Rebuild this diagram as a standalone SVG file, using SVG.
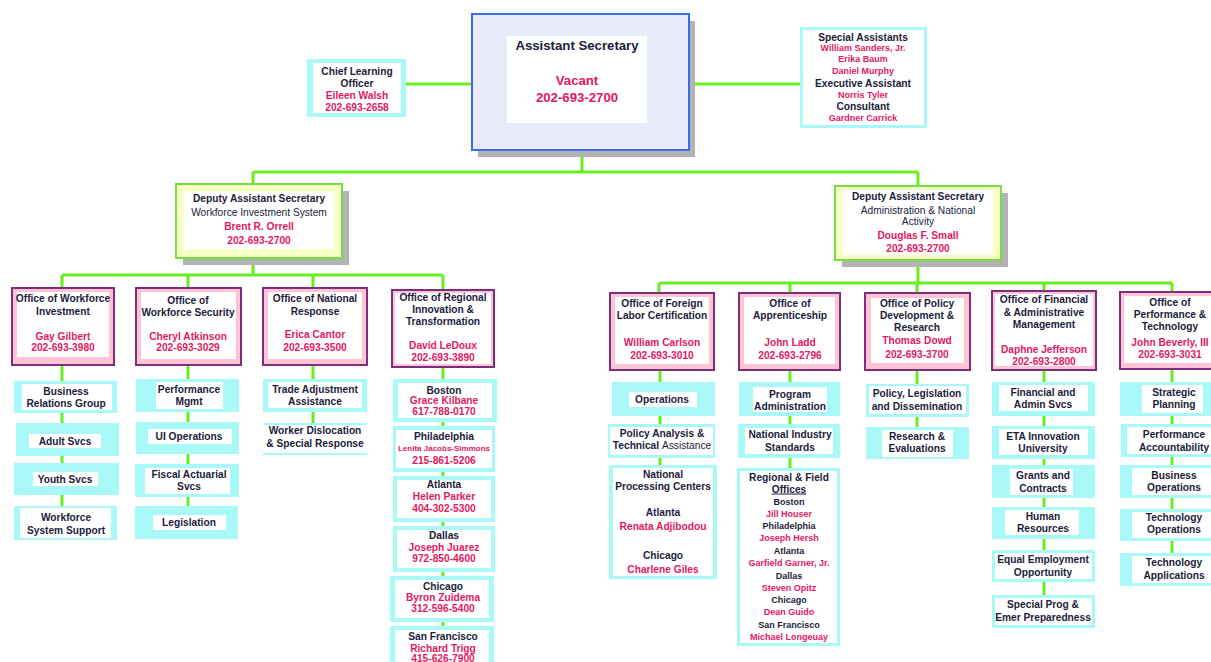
<svg xmlns="http://www.w3.org/2000/svg" width="1211" height="662" viewBox="0 0 1211 662">
<style>
.t{font-family:"Liberation Sans",Arial,sans-serif;font-weight:bold;font-size:10.2px;text-anchor:middle;fill:#1c1c3c}
.p{fill:#e4185f}
.s{font-size:9px}
.xs{font-size:8px}
.n{font-weight:normal}
.big{font-size:13.2px}
.cy{fill:#aaf9f9}
.w{fill:#fff}
.of{fill:#ffc4d4;stroke:#7d2e80;stroke-width:2}
.sh{fill:#b3b3b3}
.dp{fill:#f7ffc4;stroke:#77dd44;stroke-width:2}
.cn{stroke:#66ee22;stroke-width:3;fill:none}
</style>
<rect width="1211" height="662" fill="#fff"/>
<g id="connectors" class="cn">
<path d="M405 84H472M689 84H800"/>
<path d="M582 150V172M253 172H918M253 172V184M918 172V186"/>
<path d="M253 258V275M62 275H443M62 275V288M188 275V288M313 275V288M443 275V290"/>
<path d="M918 260V283M659 283H1172M659 283V293M790 283V293M917 283V293M1044 283V291M1172 283V292"/>
<path d="M62 365V508M188 365V506M313 365V424M443 367V626"/>
<path d="M660 370V465M790 370V468M917 370V427M1044 370V595M1172 369V553"/>
</g>
<g id="asst-sec">
<rect class="sh" x="478" y="21" width="217" height="136"/>
<rect x="472" y="14" width="217" height="136" fill="#e8ebfa" stroke="#3a6cf0" stroke-width="2"/>
<rect class="w" x="507" y="36" width="140" height="87"/>
<text class="t big" x="577" y="50">Assistant Secretary</text>
<text class="t big p" x="577" y="85">Vacant</text>
<text class="t big p" x="577" y="102">202-693-2700</text>
</g>
<g id="chief-learning">
<rect class="cy" x="307" y="59" width="99" height="58"/>
<rect class="w" x="313" y="63" width="88" height="50"/>
<text class="t" x="357" y="74.5">Chief Learning</text>
<text class="t" x="357" y="86.5">Officer</text>
<text class="t p" x="357" y="98.5">Eileen Walsh</text>
<text class="t p" x="357" y="110.5">202-693-2658</text>
</g>
<g id="special-assistants">
<rect class="cy" x="800" y="27" width="127" height="101"/>
<rect class="w" x="803" y="30" width="121" height="95"/>
<text class="t" x="863" y="40.5">Special Assistants</text>
<text class="t p s" x="863" y="51">William Sanders, Jr.</text>
<text class="t p s" x="863" y="62">Erika Baum</text>
<text class="t p s" x="863" y="74">Daniel Murphy</text>
<text class="t" x="863" y="86.5">Executive Assistant</text>
<text class="t p s" x="863" y="98">Norris Tyler</text>
<text class="t" x="863" y="109.5">Consultant</text>
<text class="t p s" x="863" y="121">Gardner Carrick</text>
</g>
<g id="das-wis">
<rect class="sh" x="183" y="191" width="166" height="74"/>
<rect class="dp" x="176" y="184" width="166" height="74"/>
<rect class="w" x="184" y="192" width="150" height="57"/>
<text class="t" x="259" y="201.5">Deputy Assistant Secretary</text>
<text class="t n" x="259" y="215.5">Workforce Investment System</text>
<text class="t p" x="259" y="229.5">Brent R. Orrell</text>
<text class="t p" x="259" y="243.5">202-693-2700</text>
</g>
<g id="das-ana">
<rect class="sh" x="842" y="193" width="166" height="74"/>
<rect class="dp" x="835" y="186" width="166" height="74"/>
<rect class="w" x="843" y="190" width="150" height="65"/>
<text class="t" x="918" y="199.5">Deputy Assistant Secretary</text>
<text class="t n" x="918" y="213.5">Administration &amp; National</text>
<text class="t n" x="918" y="224.5">Activity</text>
<text class="t p" x="918" y="238.5">Douglas F. Small</text>
<text class="t p" x="918" y="251.5">202-693-2700</text>
</g>
<g id="off-wi">
<rect class="of" x="12" y="288" width="102" height="77"/>
<rect class="w" x="17" y="292" width="92" height="65"/>
<text class="t" x="63" y="301.5">Office of Workforce</text>
<text class="t" x="63" y="314.5">Investment</text>
<text class="t p" x="63" y="339.5">Gay Gilbert</text>
<text class="t p" x="63" y="350.5">202-693-3980</text>
</g>
<g id="off-ws">
<rect class="of" x="136" y="288" width="105" height="77"/>
<rect class="w" x="141" y="292" width="95" height="67"/>
<text class="t" x="188" y="303.5">Office of</text>
<text class="t" x="188" y="315.5">Workforce Security</text>
<text class="t p" x="188" y="339.5">Cheryl Atkinson</text>
<text class="t p" x="188" y="350.5">202-693-3029</text>
</g>
<g id="off-nr">
<rect class="of" x="263" y="288" width="104" height="77"/>
<rect class="w" x="268" y="292" width="94" height="67"/>
<text class="t" x="315" y="301.5">Office of National</text>
<text class="t" x="315" y="314.5">Response</text>
<text class="t p" x="315" y="337.5">Erica Cantor</text>
<text class="t p" x="315" y="350.5">202-693-3500</text>
</g>
<g id="off-rit">
<rect class="of" x="392" y="290" width="102" height="77"/>
<rect class="w" x="395" y="293" width="96" height="71"/>
<text class="t" x="443" y="300.5">Office of Regional</text>
<text class="t" x="443" y="312.5">Innovation &amp;</text>
<text class="t" x="443" y="324.5">Transformation</text>
<text class="t p" x="443" y="348.5">David LeDoux</text>
<text class="t p" x="443" y="360.5">202-693-3890</text>
</g>
<g id="off-flc">
<rect class="of" x="610" y="293" width="104" height="77"/>
<rect class="w" x="615" y="297" width="94" height="67"/>
<text class="t" x="662" y="306.5">Office of Foreign</text>
<text class="t" x="662" y="318.5">Labor Certification</text>
<text class="t p" x="662" y="345.5">William Carlson</text>
<text class="t p" x="662" y="358.5">202-693-3010</text>
</g>
<g id="off-app">
<rect class="of" x="739" y="293" width="101" height="77"/>
<rect class="w" x="744" y="297" width="91" height="67"/>
<text class="t" x="790" y="306.5">Office of</text>
<text class="t" x="790" y="318.5">Apprenticeship</text>
<text class="t p" x="790" y="345.5">John Ladd</text>
<text class="t p" x="790" y="358.5">202-693-2796</text>
</g>
<g id="off-pdr">
<rect class="of" x="865" y="293" width="105" height="77"/>
<rect class="w" x="871" y="298" width="93" height="65"/>
<text class="t" x="917" y="306.5">Office of Policy</text>
<text class="t" x="917" y="318.5">Development &amp;</text>
<text class="t" x="917" y="330.5">Research</text>
<text class="t p" x="917" y="343.5">Thomas Dowd</text>
<text class="t p" x="917" y="357.5">202-693-3700</text>
</g>
<g id="off-fam">
<rect class="of" x="992" y="291" width="104" height="79"/>
<rect class="w" x="995" y="294" width="98" height="72"/>
<text class="t" x="1044" y="302.5">Office of Financial</text>
<text class="t" x="1044" y="315.5">&amp; Administrative</text>
<text class="t" x="1044" y="327.5">Management</text>
<text class="t p" x="1044" y="352.5">Daphne Jefferson</text>
<text class="t p" x="1044" y="364.5">202-693-2800</text>
</g>
<g id="off-pt">
<rect class="of" x="1120" y="292" width="96" height="77"/>
<rect class="w" x="1124" y="296" width="92" height="67"/>
<text class="t" x="1170" y="305.5">Office of</text>
<text class="t" x="1170" y="317.5">Performance &amp;</text>
<text class="t" x="1170" y="329.5">Technology</text>
<text class="t p" x="1170" y="345.5">John Beverly, III</text>
<text class="t p" x="1170" y="357.5">202-693-3031</text>
</g>
<g id="brg"><rect class="cy" x="14" y="381" width="103" height="32"/><rect class="w" x="22" y="384" width="90" height="26"/>
<text class="t" x="66" y="394.5">Business</text><text class="t" x="66" y="406.5">Relations Group</text></g>
<g id="adult"><rect class="cy" x="16" y="423" width="103" height="33"/><rect class="w" x="29" y="434" width="72" height="14"/>
<text class="t" x="65" y="444.5">Adult Svcs</text></g>
<g id="youth"><rect class="cy" x="14" y="463" width="105" height="32"/><rect class="w" x="33" y="472" width="65" height="14"/>
<text class="t" x="65" y="482.5">Youth Svcs</text></g>
<g id="wss"><rect class="cy" x="14" y="506" width="103" height="34"/><rect class="w" x="20" y="508" width="91" height="30"/>
<text class="t" x="66" y="520.5">Workforce</text><text class="t" x="66" y="533.5">System Support</text></g>
<g id="perf-mgmt"><rect class="cy" x="136" y="379" width="103" height="33"/><rect class="w" x="156" y="382" width="67" height="27"/>
<text class="t" x="189" y="392.5">Performance</text><text class="t" x="189" y="404.5">Mgmt</text></g>
<g id="ui-ops"><rect class="cy" x="136" y="422" width="103" height="32"/><rect class="w" x="148" y="429" width="84" height="15"/>
<text class="t" x="189" y="439.5">UI Operations</text></g>
<g id="fiscal"><rect class="cy" x="135" y="464" width="104" height="33"/><rect class="w" x="145" y="468" width="85" height="26"/>
<text class="t" x="189" y="477.5">Fiscal Actuarial</text><text class="t" x="189" y="489.5">Svcs</text></g>
<g id="legis"><rect class="cy" x="135" y="506" width="103" height="33"/><rect class="w" x="153" y="515" width="73" height="15"/>
<text class="t" x="189" y="525.5">Legislation</text></g>
<g id="trade"><rect class="cy" x="263" y="379" width="104" height="33"/><rect class="w" x="268" y="382" width="94" height="26"/>
<text class="t" x="315" y="392.5">Trade Adjustment</text><text class="t" x="315" y="404.5">Assistance</text></g>
<g id="worker"><rect class="cy" x="263" y="423" width="104" height="2"/><rect class="cy" x="263" y="453" width="104" height="2"/>
<text class="t" x="315" y="433.5">Worker Dislocation</text><text class="t" x="315" y="446.5">&amp; Special Response</text></g>
<g id="boston"><rect class="cy" x="393" y="379" width="104" height="43"/><rect class="w" x="398" y="383" width="94" height="35"/>
<text class="t" x="444" y="393.5">Boston</text><text class="t p" x="444" y="403.5">Grace Kilbane</text><text class="t p" x="444" y="414.5">617-788-0170</text></g>
<g id="philadelphia"><rect class="cy" x="393" y="426" width="102" height="46"/><rect class="w" x="396" y="430" width="96" height="38"/>
<text class="t" x="444" y="439.5">Philadelphia</text><text class="t p xs" x="444" y="451">Lenita Jacobs-Simmons</text><text class="t p" x="444" y="463.5">215-861-5206</text></g>
<g id="atlanta"><rect class="cy" x="393" y="476" width="102" height="46"/><rect class="w" x="397" y="480" width="94" height="38"/>
<text class="t" x="444" y="487.5">Atlanta</text><text class="t p" x="444" y="499.5">Helen Parker</text><text class="t p" x="444" y="511.5">404-302-5300</text></g>
<g id="dallas"><rect class="cy" x="393" y="526" width="102" height="46"/><rect class="w" x="397" y="530" width="94" height="38"/>
<text class="t" x="444" y="538.5">Dallas</text><text class="t p" x="444" y="550.5">Joseph Juarez</text><text class="t p" x="444" y="561.5">972-850-4600</text></g>
<g id="chicago"><rect class="cy" x="390" y="576" width="104" height="46"/><rect class="w" x="395" y="580" width="94" height="38"/>
<text class="t" x="443" y="589.5">Chicago</text><text class="t p" x="443" y="600.5">Byron Zuidema</text><text class="t p" x="443" y="611.5">312-596-5400</text></g>
<g id="sanfrancisco"><rect class="cy" x="390" y="626" width="104" height="40"/><rect class="w" x="395" y="630" width="94" height="36"/>
<text class="t" x="443" y="639.5">San Francisco</text><text class="t p" x="443" y="651.5">Richard Trigg</text><text class="t p" x="443" y="662">415-626-7900</text></g>
<g id="operations"><rect class="cy" x="612" y="382" width="103" height="34"/><rect class="w" x="629" y="392" width="68" height="15"/>
<text class="t" x="662" y="402.5">Operations</text></g>
<g id="policy-analysis"><rect class="cy" x="608" y="424" width="107" height="34"/><rect class="w" x="610" y="427" width="103" height="28"/>
<text class="t" x="662" y="436.5">Policy Analysis &amp;</text><text class="t" x="662" y="448.5">Technical <tspan class="n">Assistance</tspan></text></g>
<g id="npc"><rect class="cy" x="609" y="465" width="108" height="114"/><rect class="w" x="613" y="468" width="100" height="108"/>
<text class="t" x="663" y="477.5">National</text><text class="t" x="663" y="489.5">Processing Centers</text>
<text class="t" x="663" y="515.5">Atlanta</text><text class="t p" x="663" y="529.5">Renata Adjibodou</text>
<text class="t" x="663" y="558.5">Chicago</text><text class="t p" x="663" y="572.5">Charlene Giles</text></g>
<g id="program-admin"><rect class="cy" x="739" y="382" width="101" height="34"/><rect class="w" x="753" y="387" width="74" height="25"/>
<text class="t" x="790" y="397.5">Program</text><text class="t" x="790" y="409.5">Administration</text></g>
<g id="nis"><rect class="cy" x="738" y="424" width="102" height="34"/><rect class="w" x="745" y="428" width="88" height="26"/>
<text class="t" x="790" y="437.5">National Industry</text><text class="t" x="790" y="450.5">Standards</text></g>
<g id="regional-field"><rect class="cy" x="737" y="468" width="103" height="178"/><rect class="w" x="740" y="471" width="97" height="172"/>
<text class="t" x="789" y="480.5">Regional &amp; Field</text><text class="t" x="789" y="492.5" text-decoration="underline">Offices</text>
<text class="t s" x="789" y="504.5">Boston</text><text class="t p s" x="789" y="516.5">Jill Houser</text>
<text class="t s" x="789" y="528.5">Philadelphia</text><text class="t p s" x="789" y="540.5">Joseph Hersh</text>
<text class="t s" x="789" y="553.5">Atlanta</text><text class="t p s" x="789" y="565.5">Garfield Garner, Jr.</text>
<text class="t s" x="789" y="578.5">Dallas</text><text class="t p s" x="789" y="590.5">Steven Opitz</text>
<text class="t s" x="789" y="602.5">Chicago</text><text class="t p s" x="789" y="614.5">Dean Guido</text>
<text class="t s" x="789" y="627.5">San Francisco</text><text class="t p s" x="789" y="639.5">Michael Longeuay</text></g>
<g id="plsd"><rect class="cy" x="866" y="384" width="103" height="33"/><rect class="w" x="869" y="386" width="97" height="28"/>
<text class="t" x="917" y="396.5">Policy, Legislation</text><text class="t" x="917" y="409.5">and Dissemination</text></g>
<g id="research-eval"><rect class="cy" x="866" y="427" width="103" height="32"/><rect class="w" x="882" y="430" width="71" height="27"/>
<text class="t" x="917" y="439.5">Research &amp;</text><text class="t" x="917" y="451.5">Evaluations</text></g>
<g id="fin-admin"><rect class="cy" x="992" y="382" width="103" height="34"/><rect class="w" x="999" y="385" width="89" height="26"/>
<text class="t" x="1043" y="395.5">Financial and</text><text class="t" x="1043" y="407.5">Admin Svcs</text></g>
<g id="eta-univ"><rect class="cy" x="992" y="426" width="103" height="33"/><rect class="w" x="999" y="429" width="89" height="26"/>
<text class="t" x="1043" y="439.5">ETA Innovation</text><text class="t" x="1043" y="451.5">University</text></g>
<g id="grants"><rect class="cy" x="992" y="465" width="103" height="33"/><rect class="w" x="1010" y="469" width="63" height="26"/>
<text class="t" x="1043" y="478.5">Grants and</text><text class="t" x="1043" y="491.5">Contracts</text></g>
<g id="hr"><rect class="cy" x="992" y="507" width="103" height="32"/><rect class="w" x="1005" y="510" width="74" height="25"/>
<text class="t" x="1043" y="519.5">Human</text><text class="t" x="1043" y="531.5">Resources</text></g>
<g id="eeo"><rect class="cy" x="992" y="550" width="103" height="32"/><rect class="w" x="995" y="553" width="97" height="26"/>
<text class="t" x="1043" y="562.5">Equal Employment</text><text class="t" x="1043" y="575.5">Opportunity</text></g>
<g id="special-prog"><rect class="cy" x="992" y="595" width="103" height="33"/><rect class="w" x="995" y="598" width="97" height="27"/>
<text class="t" x="1043" y="607.5">Special Prog &amp;</text><text class="t" x="1043" y="620.5">Emer Preparedness</text></g>
<g id="strategic"><rect class="cy" x="1120" y="382" width="91" height="34"/><rect class="w" x="1142" y="385" width="61" height="28"/>
<text class="t" x="1174" y="395.5">Strategic</text><text class="t" x="1174" y="407.5">Planning</text></g>
<g id="perf-acc"><rect class="cy" x="1121" y="424" width="90" height="33"/><rect class="w" x="1127" y="427" width="84" height="27"/>
<text class="t" x="1174" y="437.5">Performance</text><text class="t" x="1174" y="450.5">Accountability</text></g>
<g id="bus-ops"><rect class="cy" x="1120" y="465" width="91" height="33"/><rect class="w" x="1132" y="468" width="79" height="27"/>
<text class="t" x="1174" y="478.5">Business</text><text class="t" x="1174" y="490.5">Operations</text></g>
<g id="tech-ops"><rect class="cy" x="1120" y="509" width="91" height="32"/><rect class="w" x="1132" y="512" width="79" height="26"/>
<text class="t" x="1174" y="520.5">Technology</text><text class="t" x="1174" y="532.5">Operations</text></g>
<g id="tech-apps"><rect class="cy" x="1120" y="553" width="91" height="33"/><rect class="w" x="1132" y="556" width="79" height="27"/>
<text class="t" x="1174" y="565.5">Technology</text><text class="t" x="1174" y="578.5">Applications</text></g>
</svg>
